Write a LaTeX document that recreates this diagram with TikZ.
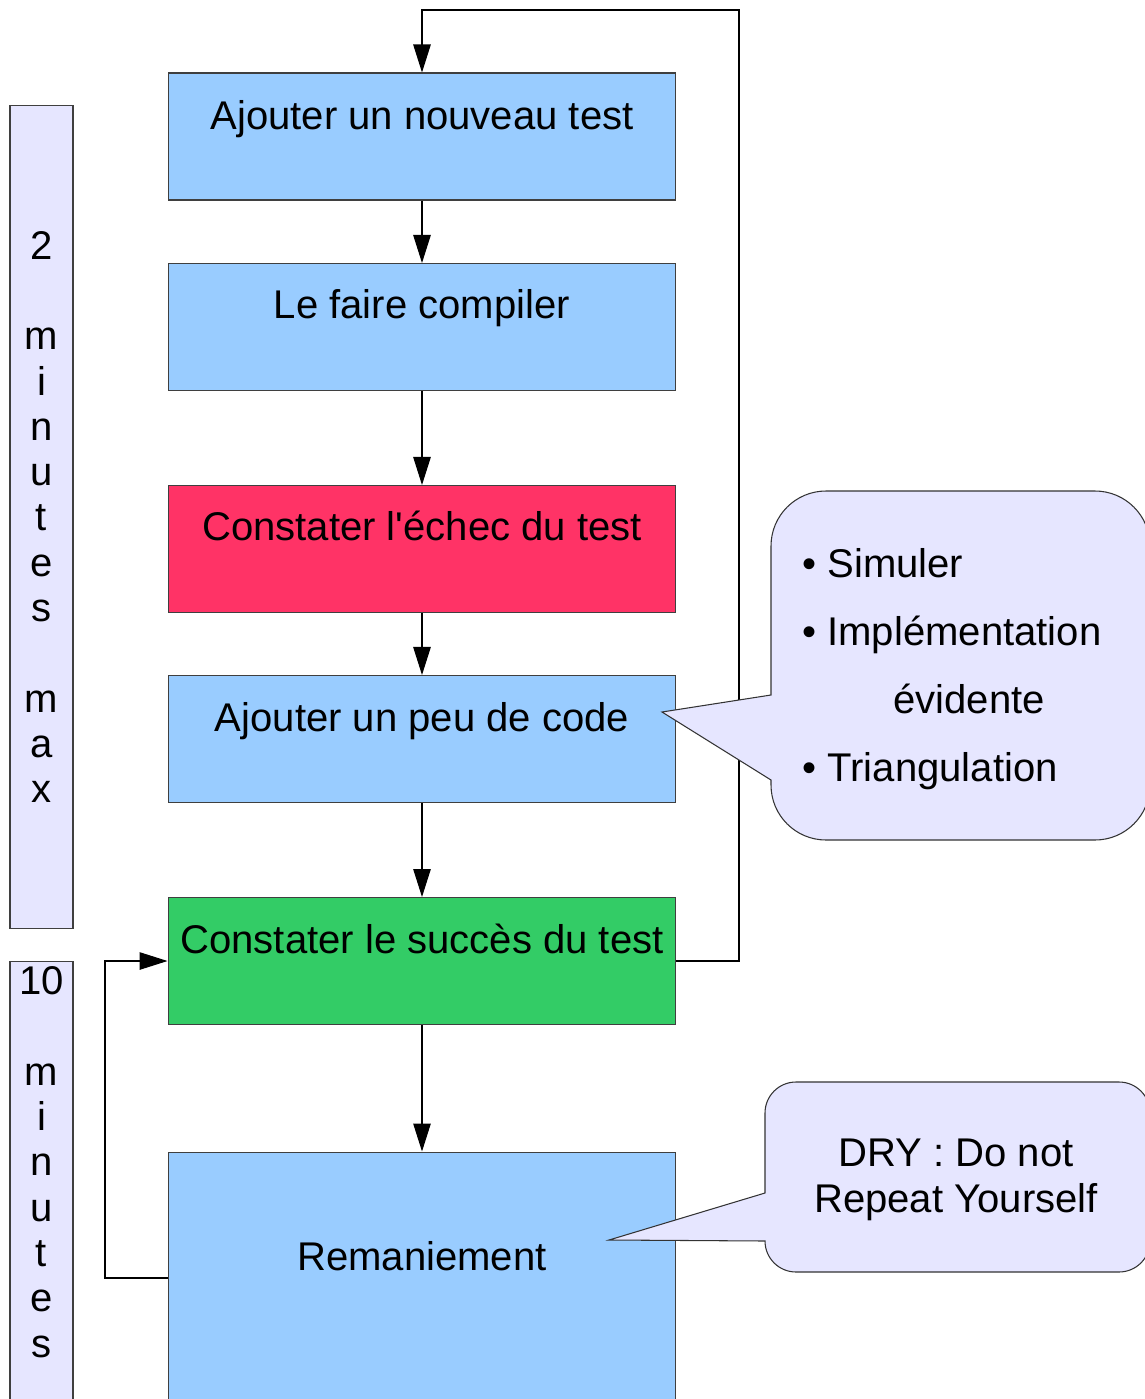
\documentclass[tikz,border=0pt]{standalone}
\usepackage{fontspec}
\setmainfont{Liberation Sans}
\usetikzlibrary{arrows.meta,positioning}
\definecolor{StepBlue}{HTML}{99CCFF}
\definecolor{FailRed}{HTML}{FF3366}
\definecolor{PassGreen}{HTML}{33CC66}
\definecolor{NoteLavender}{HTML}{E6E6FF}
\definecolor{EdgeGrey}{HTML}{3F3F3F}
\tikzset{
  stepbox/.style={draw=EdgeGrey,line width=.6pt,fill=StepBlue,minimum width=10.16cm,minimum height=2.54cm,inner sep=0pt},
  steptext/.style={font=\fontsize{22.8}{27}\selectfont,anchor=base,inner sep=0pt},
  timebar/.style={draw=EdgeGrey,line width=.6pt,fill=NoteLavender,minimum width=1.26cm,inner sep=0pt},
  bartext/.style={font=\fontsize{22.8}{25.8}\selectfont,align=center,inner sep=0pt},
  callout/.style={draw=black!80,line width=.6pt,fill=NoteLavender},
  notetext/.style={font=\fontsize{22.8}{38.7}\selectfont,align=left,inner sep=0pt},
  drytext/.style={font=\fontsize{22.8}{25.8}\selectfont,align=center,inner sep=0pt},
  flow/.style={-{Triangle[length=5.6mm,width=3.5mm]},draw=black,line width=.6pt}
}
\begin{document}
\begin{tikzpicture}[x=0.02cm,y=-0.02cm]
  \useasboundingbox (0,0) rectangle (1145,1399);
  \clip (0,0) rectangle (1145,1399);
  \node[timebar,minimum height=16.48cm] (bar1) at (41.5,517) {};
  \node[timebar,minimum height=8.98cm] (bar2) at (41.5,1185.5) {};
  \node[bartext] (bar1t) at (41.5,517) {2\\\mbox{}\\m\\i\\n\\u\\t\\e\\s\\\mbox{}\\m\\a\\x};
  \node[bartext] (bar2t) at (41.5,1162) {10\\\mbox{}\\m\\i\\n\\u\\t\\e\\s};
  \node[stepbox] (b1) at (422,136.5) {};
  \node[stepbox] (b2) at (422,327) {};
  \node[stepbox,fill=FailRed] (b3) at (422,549) {};
  \node[stepbox] (b4) at (422,739) {};
  \node[stepbox,fill=PassGreen] (b5) at (422,961) {};
  \node[stepbox,minimum height=5.04cm] (b6) at (422,1278) {};
  \node[steptext] (t1) at (422,130) {Ajouter un nouveau test};
  \node[steptext] (t2) at (422,318) {Le faire compiler};
  \node[steptext] (t3) at (422,540) {Constater l\textquotesingle échec du test};
  \node[steptext] (t4) at (422,731) {Ajouter un peu de code};
  \node[steptext] (t5) at (422,953) {Constater le succès du test};
  \node[steptext] (t6) at (422,1270) {Remaniement};
  \foreach \a/\b in {b1/b2,b2/b3,b3/b4,b4/b5,b5/b6}{
    \draw[flow] (\a) -- (\b);
  }
  \coordinate (loopR) at (739,10);
  \coordinate (loopL) at (105,961);
  \draw[flow] (b5.east) -| (loopR) -| (b1.north);
  \draw[flow] (b6.west) -| (loopL) -- (b5.west);
  \draw[callout] (771,695) [rounded corners=1.1cm] -- (771,491) -- (1150,491) -- (1150,840) -- (771,840) [sharp corners] -- (771,780) -- (662,712) -- cycle;
  \node[notetext,anchor=west] (note1) at (802,669) {• Simuler\\• Implémentation\\\hspace*{1.82cm}évidente\\• Triangulation};
  \draw[callout] (765,1193) [rounded corners=0.62cm] -- (765,1082) -- (1150,1082) -- (1150,1272) -- (765,1272) [sharp corners] -- (765,1241) -- (609,1240) -- cycle;
  \node[drytext] (note2) at (956,1180) {DRY : Do not\\Repeat Yourself};
\end{tikzpicture}
\end{document}
